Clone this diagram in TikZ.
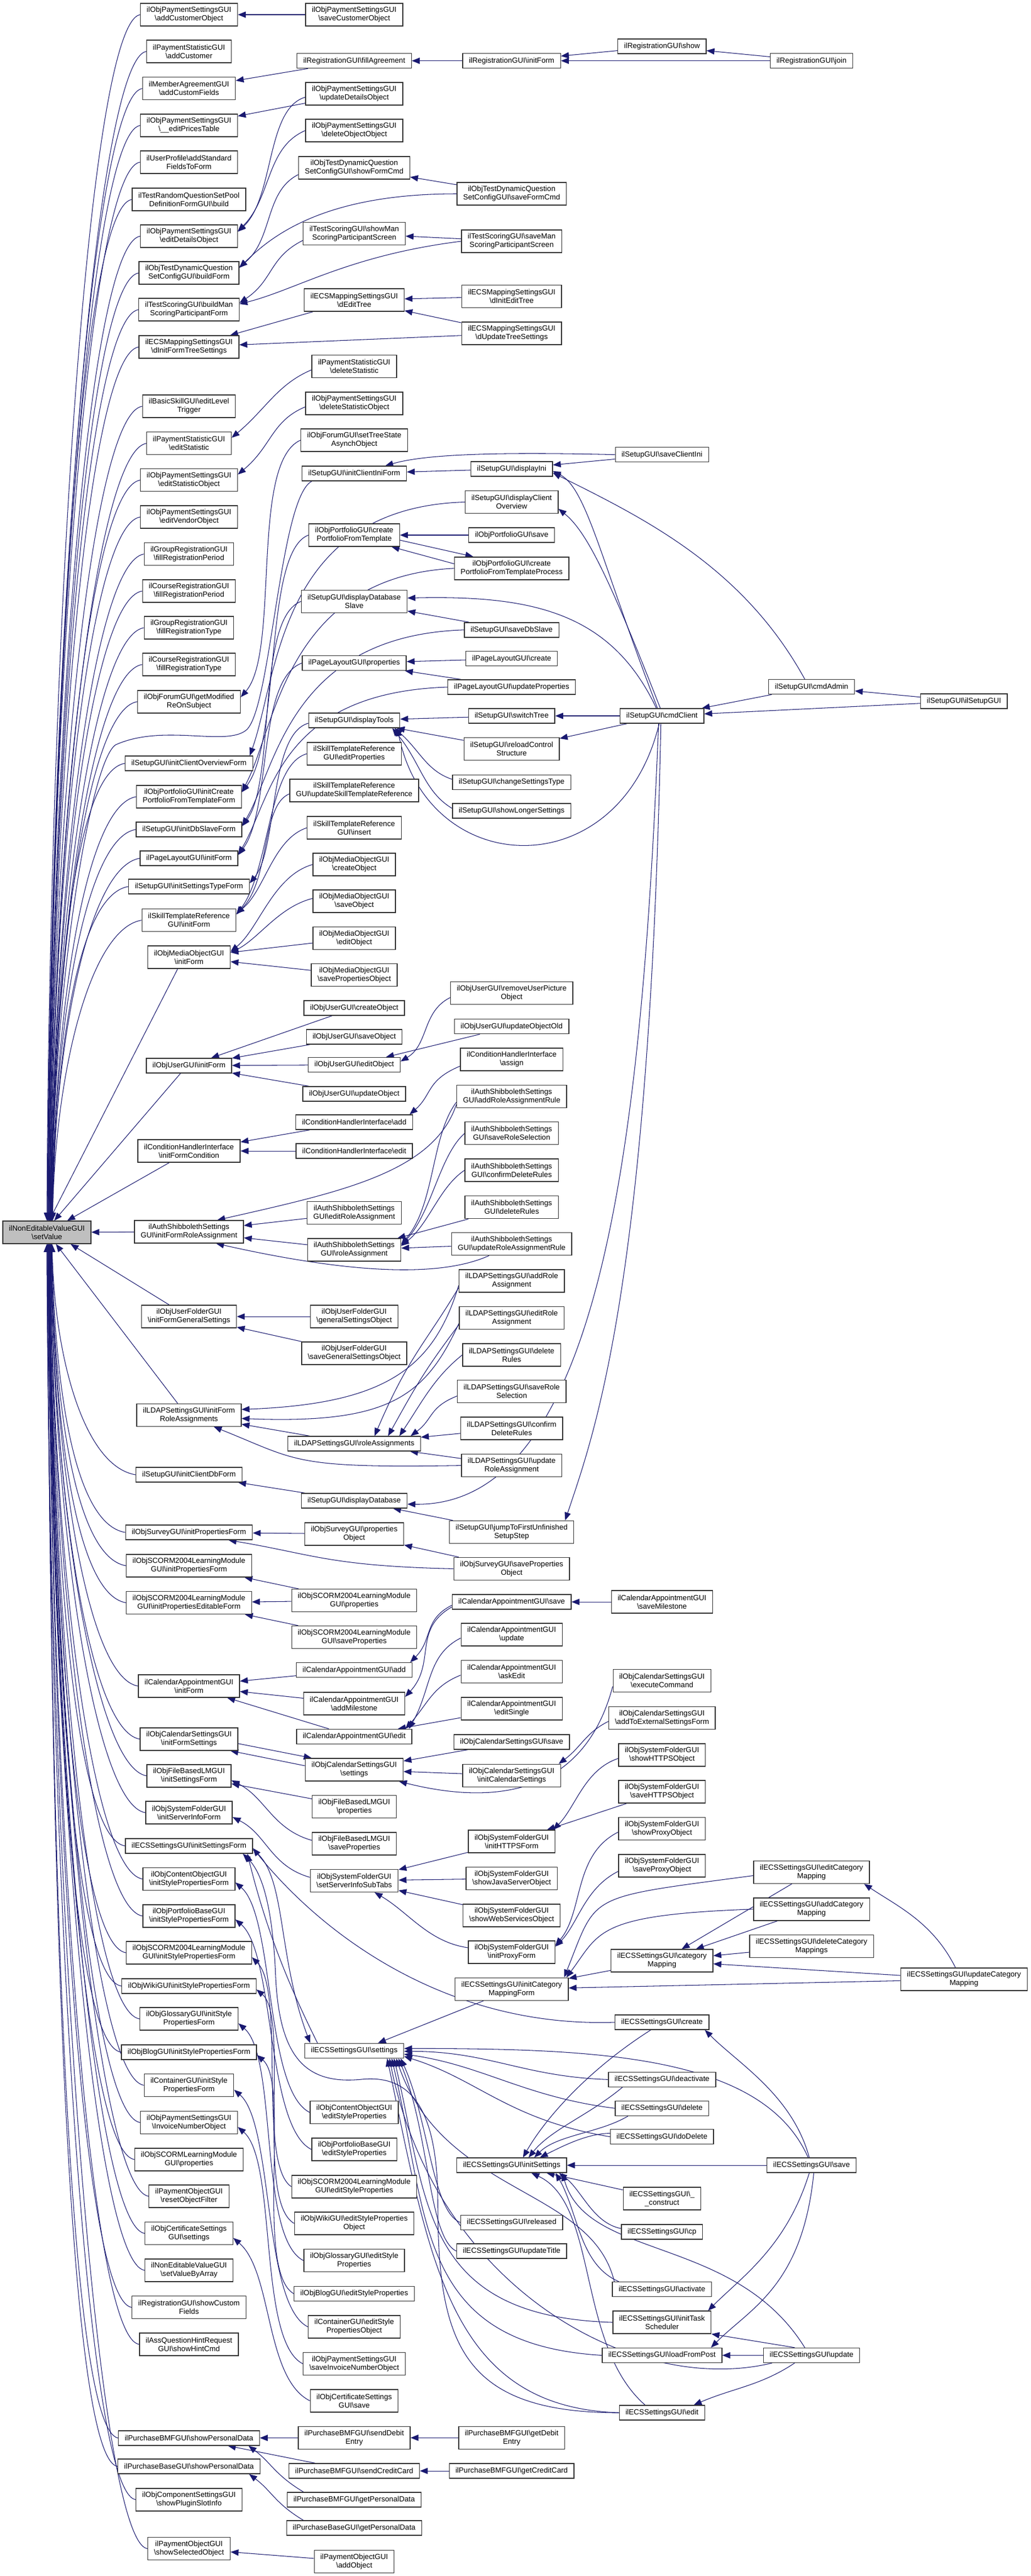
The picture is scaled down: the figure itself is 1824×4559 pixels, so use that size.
\documentclass[tikz,border=0pt]{standalone}
\usepackage{fontspec}
\setmainfont{Liberation Sans}
\usetikzlibrary{arrows.meta,backgrounds}
\definecolor{mb}{HTML}{191970}
\newcommand\BS{\textbackslash}
\newcommand\nf{\fontsize{13.2pt}{15pt}\selectfont}
\newcommand\topedge[3]{\draw[ed] (#1.west) .. controls +(-90,15) and +(5,{-0.5*(2161-#2)}) .. ([xshift=#3pt]root.north);}
\newcommand\botedge[3]{\draw[ed] (#1.west) .. controls +(-90,-15) and +(5,{0.5*(#2-2201)}) .. ([xshift=#3pt]root.south);}
\tikzset{
 nd/.style={draw=black!80, line width=1.4pt, fill=white, font=\nf, align=center, inner xsep=11pt, inner ysep=1pt, minimum height=26pt},
 nd2/.style={nd, minimum height=40pt},
 rt/.style={nd2, fill=black!25},
 ed/.style={draw=mb, line width=1.05pt, -{Triangle[length=14pt,width=11pt]}}
}
\begin{document}
\begin{tikzpicture}[x=1pt,y=-1pt]
\useasboundingbox (0,0) rectangle (1824,4559);
% root
\node[rt] (root) at (83,2181) {ilNonEditableValueGUI\\\BS setValue};
% column 1
\node[nd2] (a1) at (334.5,26) {ilObjPaymentSettingsGUI\\\BS addCustomerObject};
\node[nd2] (a2) at (334.5,91) {ilPaymentStatisticGUI\\\BS addCustomer};
\node[nd2] (a3) at (334.5,156.6) {ilMemberAgreementGUI\\\BS addCustomFields};
\node[nd2] (a4) at (334.5,222) {ilObjPaymentSettingsGUI\\\BS\_\_editPricesTable};
\node[nd2] (a5) at (334.5,287) {ilUserProfile\BS addStandard\\FieldsToForm};
\node[nd2] (a6) at (334.5,353) {ilTestRandomQuestionSetPool\\DefinitionFormGUI\BS build};
\node[nd2] (a7) at (334.5,418) {ilObjPaymentSettingsGUI\\\BS editDetailsObject};
\node[nd2] (a8) at (334.5,483) {ilObjTestDynamicQuestion\\SetConfigGUI\BS buildForm};
\node[nd2] (a9) at (334.5,548) {ilTestScoringGUI\BS buildMan\\ScoringParticipantForm};
\node[nd2] (a10) at (334.5,614) {ilECSMappingSettingsGUI\\\BS dInitFormTreeSettings};
\node[nd2] (a11) at (334.5,719) {ilBasicSkillGUI\BS editLevel\\Trigger};
\node[nd2] (a12) at (334.5,784.7) {ilPaymentStatisticGUI\\\BS editStatistic};
\node[nd2] (a13) at (334.5,849.7) {ilObjPaymentSettingsGUI\\\BS editStatisticObject};
\node[nd2] (a14) at (334.5,915) {ilObjPaymentSettingsGUI\\\BS editVendorObject};
\node[nd2] (a15) at (334.5,980.6) {ilGroupRegistrationGUI\\\BS fillRegistrationPeriod};
\node[nd2] (a16) at (334.5,1046) {ilCourseRegistrationGUI\\\BS fillRegistrationPeriod};
\node[nd2] (a17) at (334.5,1111) {ilGroupRegistrationGUI\\\BS fillRegistrationType};
\node[nd2] (a18) at (334.5,1176) {ilCourseRegistrationGUI\\\BS fillRegistrationType};
\node[nd2] (a19) at (334.5,1241.8) {ilObjForumGUI\BS getModified\\ReOnSubject};
\node[nd] (a20) at (334.5,1351) {ilSetupGUI\BS initClientOverviewForm};
\node[nd2] (a21) at (334.5,1410) {ilObjPortfolioGUI\BS initCreate\\PortfolioFromTemplateForm};
\node[nd] (a22) at (334.5,1468) {ilSetupGUI\BS initDbSlaveForm};
\node[nd] (a23) at (334.5,1519) {ilPageLayoutGUI\BS initForm};
\node[nd] (a24) at (334.5,1569) {ilSetupGUI\BS initSettingsTypeForm};
\node[nd2] (a25) at (334.5,1628.6) {ilSkillTemplateReference\\GUI\BS initForm};
\node[nd2] (a26) at (334.5,1694) {ilObjMediaObjectGUI\\\BS initForm};
\node[nd] (a27) at (334.5,1886) {ilObjUserGUI\BS initForm};
\node[nd2] (a28) at (334.5,2037) {ilConditionHandlerInterface\\\BS initFormCondition};
\node[nd2] (a29) at (334.5,2180) {ilAuthShibbolethSettings\\GUI\BS initFormRoleAssignment};
\node[nd2] (a30) at (334.5,2330) {ilObjUserFolderGUI\\\BS initFormGeneralSettings};
\node[nd2] (a31) at (334.5,2504.4) {ilLDAPSettingsGUI\BS initForm\\RoleAssignments};
\node[nd] (a32) at (334.5,2610) {ilSetupGUI\BS initClientDbForm};
\node[nd] (a33) at (334.5,2712) {ilObjSurveyGUI\BS initPropertiesForm};
\node[nd2] (a34) at (334.5,2771) {ilObjSCORM2004LearningModule\\GUI\BS initPropertiesForm};
\node[nd2] (a35) at (334.5,2836.5) {ilObjSCORM2004LearningModule\\GUI\BS initPropertiesEditableForm};
\node[nd2] (a36) at (334.5,2984) {ilCalendarAppointmentGUI\\\BS initForm};
\node[nd2] (a37) at (334.5,3077.8) {ilObjCalendarSettingsGUI\\\BS initFormSettings};
\node[nd2] (a38) at (334.5,3142.8) {ilObjFileBasedLMGUI\\\BS initSettingsForm};
\node[nd2] (a39) at (334.5,3208) {ilObjSystemFolderGUI\\\BS initServerInfoForm};
\node[nd] (a40) at (334.5,3266.9) {ilECSSettingsGUI\BS initSettingsForm};
\node[nd2] (a41) at (334.5,3325.5) {ilObjContentObjectGUI\\\BS initStylePropertiesForm};
\node[nd2] (a42) at (334.5,3391) {ilObjPortfolioBaseGUI\\\BS initStylePropertiesForm};
\node[nd2] (a43) at (334.5,3456) {ilObjSCORM2004LearningModule\\GUI\BS initStylePropertiesForm};
\node[nd] (a44) at (334.5,3515) {ilObjWikiGUI\BS initStylePropertiesForm};
\node[nd2] (a45) at (334.5,3573) {ilObjGlossaryGUI\BS initStyle\\PropertiesForm};
\node[nd] (a46) at (334.5,3632) {ilObjBlogGUI\BS initStylePropertiesForm};
\node[nd2] (a47) at (334.5,3690.5) {ilContainerGUI\BS initStyle\\PropertiesForm};
\node[nd2] (a48) at (334.5,3756.4) {ilObjPaymentSettingsGUI\\\BS InvoiceNumberObject};
\node[nd2] (a49) at (334.5,3821.8) {ilObjSCORMLearningModule\\GUI\BS properties};
\node[nd2] (a50) at (334.5,3887) {ilPaymentObjectGUI\\\BS resetObjectFilter};
\node[nd2] (a51) at (334.5,3952.7) {ilObjCertificateSettings\\GUI\BS settings};
\node[nd2] (a52) at (334.5,4018) {ilNonEditableValueGUI\\\BS setValueByArray};
\node[nd2] (a53) at (334.5,4083.6) {ilRegistrationGUI\BS showCustom\\Fields};
\node[nd2] (a54) at (334.5,4149) {ilAssQuestionHintRequest\\GUI\BS showHintCmd};
\node[nd] (a55) at (334.5,4314.8) {ilPurchaseBMFGUI\BS showPersonalData};
\node[nd] (a56) at (334.5,4365) {ilPurchaseBaseGUI\BS showPersonalData};
\node[nd2] (a57) at (334.5,4423.8) {ilObjComponentSettingsGUI\\\BS showPluginSlotInfo};
\node[nd2] (a58) at (334.5,4510.6) {ilPaymentObjectGUI\\\BS showSelectedObject};
% column 2
\node[nd2] (b1) at (627,26) {ilObjPaymentSettingsGUI\\\BS saveCustomerObject};
\node[nd] (b2) at (627,107.6) {ilRegistrationGUI\BS fillAgreement};
\node[nd2] (b3) at (627,166) {ilObjPaymentSettingsGUI\\\BS updateDetailsObject};
\node[nd2] (b4) at (627,231) {ilObjPaymentSettingsGUI\\\BS deleteObjectObject};
\node[nd2] (b5) at (627,297) {ilObjTestDynamicQuestion\\SetConfigGUI\BS showFormCmd};
\node[nd2] (b6) at (627,413.5) {ilTestScoringGUI\BS showMan\\ScoringParticipantScreen};
\node[nd2] (b7) at (627,531) {ilECSMappingSettingsGUI\\\BS dEditTree};
\node[nd2] (b8) at (627,648.6) {ilPaymentStatisticGUI\\\BS deleteStatistic};
\node[nd2] (b9) at (627,714) {ilObjPaymentSettingsGUI\\\BS deleteStatisticObject};
\node[nd2] (b10) at (627,779) {ilObjForumGUI\BS setTreeState\\AsynchObject};
\node[nd] (b11) at (627,838) {ilSetupGUI\BS initClientIniForm};
\node[nd2] (b12) at (627,947) {ilObjPortfolioGUI\BS create\\PortfolioFromTemplate};
\node[nd2] (b13) at (627,1064.4) {ilSetupGUI\BS displayDatabase\\Slave};
\node[nd] (b14) at (627,1173.5) {ilPageLayoutGUI\BS properties};
\node[nd] (b15) at (627,1275) {ilSetupGUI\BS displayTools};
\node[nd2] (b16) at (627,1334) {ilSkillTemplateReference\\GUI\BS editProperties};
\node[nd2] (b17) at (627,1399) {ilSkillTemplateReference\\GUI\BS updateSkillTemplateReference};
\node[nd2] (b18) at (627,1465) {ilSkillTemplateReference\\GUI\BS insert};
\node[nd2] (b19) at (627,1530) {ilObjMediaObjectGUI\\\BS createObject};
\node[nd2] (b20) at (627,1595) {ilObjMediaObjectGUI\\\BS saveObject};
\node[nd2] (b21) at (627,1660.6) {ilObjMediaObjectGUI\\\BS editObject};
\node[nd2] (b22) at (627,1725.5) {ilObjMediaObjectGUI\\\BS savePropertiesObject};
\node[nd] (b23) at (627,1784) {ilObjUserGUI\BS createObject};
\node[nd] (b24) at (627,1835) {ilObjUserGUI\BS saveObject};
\node[nd] (b25) at (627,1884.5) {ilObjUserGUI\BS editObject};
\node[nd] (b26) at (627,1936) {ilObjUserGUI\BS updateObject};
\node[nd] (b27) at (627,1986) {ilConditionHandlerInterface\BS add};
\node[nd] (b28) at (627,2037) {ilConditionHandlerInterface\BS edit};
\node[nd2] (b29) at (627,2146.7) {ilAuthShibbolethSettings\\GUI\BS editRoleAssignment};
\node[nd2] (b30) at (627,2212) {ilAuthShibbolethSettings\\GUI\BS roleAssignment};
\node[nd2] (b31) at (627,2330) {ilObjUserFolderGUI\\\BS generalSettingsObject};
\node[nd2] (b32) at (627,2395) {ilObjUserFolderGUI\\\BS saveGeneralSettingsObject};
\node[nd] (b33) at (627,2555) {ilLDAPSettingsGUI\BS roleAssignments};
\node[nd] (b34) at (627,2656) {ilSetupGUI\BS displayDatabase};
\node[nd2] (b35) at (627,2714.8) {ilObjSurveyGUI\BS properties\\Object};
\node[nd2] (b36) at (627,2832.6) {ilObjSCORM2004LearningModule\\GUI\BS properties};
\node[nd2] (b37) at (627,2897.6) {ilObjSCORM2004LearningModule\\GUI\BS saveProperties};
\node[nd] (b38) at (627,2955.7) {ilCalendarAppointmentGUI\BS add};
\node[nd2] (b39) at (627,3015) {ilCalendarAppointmentGUI\\\BS addMilestone};
\node[nd] (b40) at (627,3073.4) {ilCalendarAppointmentGUI\BS edit};
\node[nd2] (b41) at (627,3132) {ilObjCalendarSettingsGUI\\\BS settings};
\node[nd2] (b42) at (627,3197.5) {ilObjFileBasedLMGUI\\\BS properties};
\node[nd2] (b43) at (627,3263) {ilObjFileBasedLMGUI\\\BS saveProperties};
\node[nd2] (b44) at (627,3328.4) {ilObjSystemFolderGUI\\\BS setServerInfoSubTabs};
\node[nd] (b45) at (627,3629.4) {ilECSSettingsGUI\BS settings};
\node[nd2] (b46) at (627,3738.5) {ilObjContentObjectGUI\\\BS editStyleProperties};
\node[nd2] (b47) at (627,3804) {ilObjPortfolioBaseGUI\\\BS editStyleProperties};
\node[nd2] (b48) at (627,3869.8) {ilObjSCORM2004LearningModule\\GUI\BS editStyleProperties};
\node[nd2] (b49) at (627,3935) {ilObjWikiGUI\BS editStyleProperties\\Object};
\node[nd2] (b50) at (627,4000.7) {ilObjGlossaryGUI\BS editStyle\\Properties};
\node[nd] (b51) at (627,4059.3) {ilObjBlogGUI\BS editStyleProperties};
\node[nd2] (b52) at (627,4118) {ilContainerGUI\BS editStyle\\PropertiesObject};
\node[nd2] (b53) at (627,4183.4) {ilObjPaymentSettingsGUI\\\BS saveInvoiceNumberObject};
\node[nd2] (b54) at (627,4248.9) {ilObjCertificateSettings\\GUI\BS save};
\node[nd2] (b55) at (627,4314.3) {ilPurchaseBMFGUI\BS sendDebit\\Entry};
\node[nd] (b56) at (627,4373) {ilPurchaseBMFGUI\BS sendCreditCard};
\node[nd] (b57) at (627,4423.8) {ilPurchaseBMFGUI\BS getPersonalData};
\node[nd] (b58) at (627,4474) {ilPurchaseBaseGUI\BS getPersonalData};
\node[nd2] (b59) at (627,4533.4) {ilPaymentObjectGUI\\\BS addObject};
% column 3
\node[nd] (c1) at (905.7,107.6) {ilRegistrationGUI\BS initForm};
\node[nd2] (c2) at (905.7,343) {ilObjTestDynamicQuestion\\SetConfigGUI\BS saveFormCmd};
\node[nd2] (c3) at (905.7,427) {ilTestScoringGUI\BS saveMan\\ScoringParticipantScreen};
\node[nd2] (c4) at (905.7,524.5) {ilECSMappingSettingsGUI\\\BS dInitEditTree};
\node[nd2] (c5) at (905.7,590) {ilECSMappingSettingsGUI\\\BS dUpdateTreeSettings};
\node[nd] (c7) at (905.7,829.8) {ilSetupGUI\BS displayIni};
\node[nd2] (c8) at (905.7,888.5) {ilSetupGUI\BS displayClient\\Overview};
\node[nd] (c9) at (905.7,947) {ilObjPortfolioGUI\BS save};
\node[nd2] (c10) at (905.7,1005.8) {ilObjPortfolioGUI\BS create\\PortfolioFromTemplateProcess};
\node[nd] (c11) at (905.7,1114.8) {ilSetupGUI\BS saveDbSlave};
\node[nd] (c12) at (905.7,1165.7) {ilPageLayoutGUI\BS create};
\node[nd] (c13) at (905.7,1216) {ilPageLayoutGUI\BS updateProperties};
\node[nd] (c14) at (905.7,1267) {ilSetupGUI\BS switchTree};
\node[nd2] (c15) at (905.7,1325.7) {ilSetupGUI\BS reloadControl\\Structure};
\node[nd] (c16) at (905.7,1384.3) {ilSetupGUI\BS changeSettingsType};
\node[nd] (c17) at (905.7,1434.8) {ilSetupGUI\BS showLongerSettings};
\node[nd2] (c18) at (905.7,1757.5) {ilObjUserGUI\BS removeUserPicture\\Object};
\node[nd] (c19) at (905.7,1816.7) {ilObjUserGUI\BS updateObjectOld};
\node[nd2] (c20) at (905.7,1874.8) {ilConditionHandlerInterface\\\BS assign};
\node[nd2] (c21) at (905.7,1940.7) {ilAuthShibbolethSettings\\GUI\BS addRoleAssignmentRule};
\node[nd2] (c22) at (905.7,2005.7) {ilAuthShibbolethSettings\\GUI\BS saveRoleSelection};
\node[nd2] (c23) at (905.7,2071) {ilAuthShibbolethSettings\\GUI\BS confirmDeleteRules};
\node[nd2] (c24) at (905.7,2136.6) {ilAuthShibbolethSettings\\GUI\BS deleteRules};
\node[nd2] (c25) at (905.7,2201.5) {ilAuthShibbolethSettings\\GUI\BS updateRoleAssignmentRule};
\node[nd2] (c26) at (905.7,2267) {ilLDAPSettingsGUI\BS addRole\\Assignment};
\node[nd2] (c27) at (905.7,2332.4) {ilLDAPSettingsGUI\BS editRole\\Assignment};
\node[nd2] (c28) at (905.7,2397.8) {ilLDAPSettingsGUI\BS delete\\Rules};
\node[nd2] (c29) at (905.7,2462.7) {ilLDAPSettingsGUI\BS saveRole\\Selection};
\node[nd2] (c30) at (905.7,2528) {ilLDAPSettingsGUI\BS confirm\\DeleteRules};
\node[nd2] (c31) at (905.7,2593.6) {ilLDAPSettingsGUI\BS update\\RoleAssignment};
\node[nd2] (c32) at (905.7,2711.4) {ilSetupGUI\BS jumpToFirstUnfinished\\SetupStep};
\node[nd2] (c33) at (905.7,2776.4) {ilObjSurveyGUI\BS saveProperties\\Object};
\node[nd] (c34) at (905.7,2835) {ilCalendarAppointmentGUI\BS save};
\node[nd2] (c35) at (905.7,2893) {ilCalendarAppointmentGUI\\\BS update};
\node[nd2] (c36) at (905.7,2958.6) {ilCalendarAppointmentGUI\\\BS askEdit};
\node[nd2] (c37) at (905.7,3024) {ilCalendarAppointmentGUI\\\BS editSingle};
\node[nd] (c38) at (905.7,3083) {ilObjCalendarSettingsGUI\BS save};
\node[nd2] (c39) at (905.7,3142.3) {ilObjCalendarSettingsGUI\\\BS initCalendarSettings};
\node[nd2] (c40) at (905.7,3259) {ilObjSystemFolderGUI\\\BS initHTTPSForm};
\node[nd2] (c41) at (905.7,3324.5) {ilObjSystemFolderGUI\\\BS showJavaServerObject};
\node[nd2] (c42) at (905.7,3390) {ilObjSystemFolderGUI\\\BS showWebServicesObject};
\node[nd2] (c43) at (905.7,3455) {ilObjSystemFolderGUI\\\BS initProxyForm};
\node[nd2] (c44) at (905.7,3520.4) {ilECSSettingsGUI\BS initCategory\\MappingForm};
\node[nd] (c45) at (905.7,3832) {ilECSSettingsGUI\BS initSettings};
\node[nd] (c46) at (905.7,3933.3) {ilECSSettingsGUI\BS released};
\node[nd] (c47) at (905.7,3984) {ilECSSettingsGUI\BS updateTitle};
\node[nd2] (c48) at (905.7,4314.3) {ilPurchaseBMFGUI\BS getDebit\\Entry};
\node[nd] (c49) at (905.7,4373) {ilPurchaseBMFGUI\BS getCreditCard};
% column 4
\node[nd] (d1) at (1171.8,82) {ilRegistrationGUI\BS show};
\node[nd] (d0) at (1171.8,804.6) {ilSetupGUI\BS saveClientIni};
\node[nd] (d3) at (1171.8,1267) {ilSetupGUI\BS cmdClient};
\node[nd2] (d6) at (1171.8,2835) {ilCalendarAppointmentGUI\\\BS saveMilestone};
\node[nd2] (d7) at (1171.8,2974.6) {ilObjCalendarSettingsGUI\\\BS executeCommand};
\node[nd2] (d8) at (1171.8,3040.5) {ilObjCalendarSettingsGUI\\\BS addToExternalSettingsForm};
\node[nd2] (d9) at (1171.8,3106) {ilObjSystemFolderGUI\\\BS showHTTPSObject};
\node[nd2] (d10) at (1171.8,3171) {ilObjSystemFolderGUI\\\BS saveHTTPSObject};
\node[nd2] (d11) at (1171.8,3236.3) {ilObjSystemFolderGUI\\\BS showProxyObject};
\node[nd2] (d12) at (1171.8,3301.8) {ilObjSystemFolderGUI\\\BS saveProxyObject};
\node[nd2] (d13) at (1171.8,3470) {ilECSSettingsGUI\BS category\\Mapping};
\node[nd] (d14) at (1171.8,3579) {ilECSSettingsGUI\BS create};
\node[nd] (d15) at (1171.8,3680.3) {ilECSSettingsGUI\BS deactivate};
\node[nd] (d16) at (1171.8,3731.2) {ilECSSettingsGUI\BS delete};
\node[nd] (d17) at (1171.8,3781.6) {ilECSSettingsGUI\BS doDelete};
\node[nd2] (d19) at (1171.8,3891) {ilECSSettingsGUI\BS\_\\\_construct};
\node[nd] (d20) at (1171.8,3950) {ilECSSettingsGUI\BS cp};
\node[nd] (d21) at (1171.8,4051.6) {ilECSSettingsGUI\BS activate};
\node[nd2] (d22) at (1171.8,4110) {ilECSSettingsGUI\BS initTask\\Scheduler};
\node[nd] (d23) at (1171.8,4168.4) {ilECSSettingsGUI\BS loadFromPost};
\node[nd] (d24) at (1171.8,4270) {ilECSSettingsGUI\BS edit};
% column 5
\node[nd] (d2) at (1436.5,107.6) {ilRegistrationGUI\BS join};
\node[nd] (d4) at (1436.5,1215.6) {ilSetupGUI\BS cmdAdmin};
\node[nd2] (e1) at (1436.5,3313.4) {ilECSSettingsGUI\BS editCategory\\Mapping};
\node[nd2] (e2) at (1436.5,3378.8) {ilECSSettingsGUI\BS addCategory\\Mapping};
\node[nd2] (e3) at (1436.5,3444.3) {ilECSSettingsGUI\BS deleteCategory\\Mappings};
\node[nd] (d18) at (1436.5,3832) {ilECSSettingsGUI\BS save};
\node[nd] (e4) at (1436.5,4168.4) {ilECSSettingsGUI\BS update};
% column 6
\node[nd] (d5) at (1706.3,1241) {ilSetupGUI\BS ilSetupGUI};
\node[nd2] (f1) at (1706.3,3503) {ilECSSettingsGUI\BS updateCategory\\Mapping};

\begin{pgfonlayer}{background}
\fill[white] (0,0) rectangle (1824,4559);
% ---- edges into root
\topedge{a1}{26}{0} \topedge{a2}{91}{1} \topedge{a3}{156.6}{1} \topedge{a4}{222}{2}
\topedge{a5}{287}{2} \topedge{a6}{353}{3} \topedge{a7}{418}{3} \topedge{a8}{483}{4}
\topedge{a9}{548}{4} \topedge{a10}{614}{5} \topedge{a11}{719}{5} \topedge{a12}{784.7}{6}
\topedge{a13}{849.7}{6} \topedge{a14}{915}{6} \topedge{a15}{980.6}{7} \topedge{a16}{1046}{7}
\topedge{a17}{1111}{7} \topedge{a18}{1176}{8} \topedge{a19}{1241.8}{8} \topedge{a20}{1351}{8}
\topedge{a21}{1410}{9} \topedge{a22}{1468}{9} \topedge{a23}{1519}{9} \topedge{a24}{1569}{10}
\topedge{a25}{1628.6}{10}
\draw[ed] ([xshift=-75pt]b11.south) .. controls (495,880) and (480,1255) .. (436,1292) .. controls (400,1322) and (290,1280) .. (205,1318) .. controls (160,1345) and (93,1750) .. ([xshift=9pt]root.north);
\draw[ed] ([xshift=-20pt]a26.south) -- ([xshift=4pt]root.north);
\draw[ed] ([xshift=-15pt]a27.south) -- ([xshift=13pt]root.north);
\draw[ed] ([xshift=-35pt]a28.south) -- ([xshift=36pt]root.north);
\draw[ed] (a29) -- (root);
\draw[ed] ([xshift=-35pt]a30.north) -- ([xshift=42pt]root.south);
\draw[ed] ([xshift=-20pt]a31.north) -- ([xshift=16pt]root.south);
\botedge{a32}{2610}{9} \botedge{a33}{2712}{9} \botedge{a34}{2771}{8} \botedge{a35}{2836.5}{8}
\botedge{a36}{2984}{8} \botedge{a37}{3077.8}{7} \botedge{a38}{3142.8}{7} \botedge{a39}{3208}{7}
\botedge{a40}{3266.9}{6} \botedge{a41}{3325.5}{6} \botedge{a42}{3391}{6} \botedge{a43}{3456}{5}
\botedge{a44}{3515}{5} \botedge{a45}{3573}{5} \botedge{a46}{3632}{4} \botedge{a47}{3690.5}{4}
\botedge{a48}{3756.4}{4} \botedge{a49}{3821.8}{3} \botedge{a50}{3887}{3} \botedge{a51}{3952.7}{3}
\botedge{a52}{4018}{2} \botedge{a53}{4083.6}{2} \botedge{a54}{4149}{2} \botedge{a55}{4314.8}{1}
\botedge{a56}{4365}{1} \botedge{a57}{4423.8}{0} \botedge{a58}{4510.6}{0}
% ---- top cluster
\draw[ed] (b1) -- (a1);
\draw[ed] (b2) -- (a3);
\draw[ed] (b3) -- (a4);
\draw[ed] ([yshift=-6pt]b3.west) .. controls +(-70,20) and +(65,-60) .. ([yshift=8pt]a7.east);
\draw[ed] (b4.west) .. controls +(-70,30) and +(60,-60) .. ([yshift=9pt]a7.east);
\draw[ed] ([yshift=-12pt]b5.west) .. controls +(-60,30) and +(60,-50) .. ([yshift=10pt]a8.east);
\draw[ed] (c2) -- (b5);
\draw[ed] (c2.west) .. controls +(-230,0) and +(60,-60) .. ([yshift=9pt]a8.east);
\draw[ed] ([yshift=-12pt]b6.west) .. controls +(-60,30) and +(60,-40) .. ([yshift=12pt]a9.east);
\draw[ed] (c3) -- (b6);
\draw[ed] (c3.west) .. controls +(-200,25) and +(100,-25) .. ([yshift=10pt]a9.east);
\draw[ed] (b7) -- (a10);
\draw[ed] (c4) -- (b7);
\draw[ed] (c5) -- (b7);
\draw[ed] (c5) -- (a10);
\draw[ed] (c1) -- (b2);
\draw[ed] (d1) -- (c1);
\draw[ed] (d2) -- (c1);
\draw[ed] (d2) -- (d1);
\draw[ed] ([yshift=-6pt]b8.west) .. controls +(-60,25) and +(60,-50) .. ([yshift=10pt]a12.east);
\draw[ed] ([yshift=-6pt]b9.west) .. controls +(-60,25) and +(60,-50) .. ([yshift=10pt]a13.east);
\draw[ed] (b10.west) .. controls +(-90,40) and +(70,-80) .. ([yshift=8pt]a19.east);
\draw[ed] (c8.west) .. controls +(-330,10) and +(50,-140) .. ([xshift=-6pt]a20.north east);
\draw[ed] (b12.west) .. controls +(-80,30) and +(70,-90) .. ([yshift=8pt]a21.east);
\draw[ed] (c10.west) .. controls +(-300,15) and +(60,-110) .. ([yshift=9pt]a21.east);
\draw[ed] (b13.west) .. controls +(-80,30) and +(60,-80) .. ([yshift=6pt]a22.east);
\draw[ed] (c11.west) .. controls +(-310,10) and +(60,-100) .. ([yshift=7pt]a22.east);
\draw[ed] (b14.west) .. controls +(-80,30) and +(60,-80) .. ([yshift=6pt]a23.east);
\draw[ed] (c13.west) .. controls +(-300,10) and +(60,-100) .. ([yshift=7pt]a23.east);
\draw[ed] (c12) -- (b14);
\draw[ed] (c13) -- (b14);
\draw[ed] (c11) -- (b13);
\draw[ed] ([xshift=-10pt]d3.north) .. controls +(-80,-170) and +(220,-5) .. ([yshift=6pt]b13.east);
\draw[ed] (c7) -- (b11);
\draw[ed] (d0.west) .. controls +(-220,-5) and +(70,-20) .. ([xshift=55pt]b11.north);
\draw[ed] (d0) -- (c7);
\draw[ed] (c9) -- (b12);
\draw[ed] ([yshift=8pt]c10.west) -- ([xshift=-15pt]b12.south east);
\draw[ed] ([yshift=-9pt]b12.east) -- ([xshift=-68pt]c10.north);
\draw[ed] ([xshift=-8pt]d3.north) .. controls +(-100,-260) and +(60,30) .. ([yshift=-4pt]c7.east);
\draw[ed] ([xshift=-3pt]d3.north) .. controls +(-90,-230) and +(50,40) .. ([yshift=-12pt]c8.east);
\draw[ed] ([xshift=-12pt]d4.north) .. controls +(-110,-200) and +(160,80) .. ([yshift=-7pt]c7.east);
\draw[ed] (d3) -- (c14);
\draw[ed] (d3) -- (c15);
\draw[ed] (d4) -- (d3);
\draw[ed] (d5) -- (d4);
\draw[ed] (d5) -- (d3);
\draw[ed] ([xshift=-5pt]d3.south) .. controls +(-70,290) and +(55,270) .. ([xshift=-5pt]b15.south east);
\draw[ed] (c14) -- (b15);
\draw[ed] (c15) -- (b15);
\draw[ed] ([yshift=5pt]c16.west) .. controls +(-45,-15) and +(45,40) .. ([xshift=-10pt]b15.south east);
\draw[ed] ([yshift=4pt]c17.west) .. controls +(-50,-30) and +(50,60) .. ([xshift=-14pt]b15.south east);
\draw[ed] ([yshift=-5pt]b15.west) .. controls +(-70,20) and +(50,-60) .. ([yshift=6pt]a24.east);
% ---- middle cluster
\draw[ed] (b16.west) .. controls +(-70,20) and +(60,-80) .. ([yshift=10pt]a25.east);
\draw[ed] ([yshift=-6pt]b17.west) .. controls +(-50,20) and +(60,-60) .. ([yshift=11pt]a25.east);
\draw[ed] (b18.west) .. controls +(-60,20) and +(50,-40) .. ([yshift=12pt]a25.east);
\draw[ed] (b19.west) .. controls +(-70,20) and +(50,-40) .. ([yshift=10pt]a26.east);
\draw[ed] ([yshift=5pt]b20.west) .. controls +(-60,15) and +(50,-25) .. ([yshift=8pt]a26.east);
\draw[ed] (b21) -- (a26);
\draw[ed] (b22) -- (a26);
\draw[ed] (b23) -- (a27);
\draw[ed] (b24) -- (a27);
\draw[ed] (b25) -- (a27);
\draw[ed] (b26) -- (a27);
\draw[ed] ([yshift=-8pt]c18.west) .. controls +(-50,25) and +(50,-30) .. ([yshift=6pt]b25.east);
\draw[ed] (c19) -- (b25);
\draw[ed] (b27) -- (a28);
\draw[ed] (b28) -- (a28);
\draw[ed] ([yshift=-12pt]c20.west) .. controls +(-60,25) and +(40,-35) .. ([xshift=-6pt]b27.north east);
\draw[ed] (b29) -- (a29);
\draw[ed] (b30) -- (a29);
\draw[ed] ([yshift=-14pt]c21.west) .. controls +(-40,120) and +(220,-50) .. ([xshift=50pt]a29.north);
\draw[ed] ([xshift=-40pt]c25.south) .. controls +(-100,45) and +(200,45) .. ([xshift=48pt]a29.south);
\draw[ed] ([yshift=-10pt]c21.west) .. controls +(-45,60) and +(60,-70) .. ([yshift=10pt]b30.east);
\draw[ed] (c22.west) .. controls +(-45,40) and +(55,-60) .. ([yshift=8pt]b30.east);
\draw[ed] (c23.west) .. controls +(-45,30) and +(50,-40) .. ([yshift=7pt]b30.east);
\draw[ed] (c24) -- (b30);
\draw[ed] (c25) -- (b30);
% ---- LDAP etc
\draw[ed] (b31) -- (a30);
\draw[ed] (b32) -- (a30);
\draw[ed] ([yshift=-8pt]c26.west) .. controls +(-45,150) and +(250,-10) .. ([yshift=10pt]a31.east);
\draw[ed] ([yshift=-10pt]c27.west) .. controls +(-60,130) and +(260,10) .. ([yshift=-6pt]a31.east);
\draw[ed] (b33) -- (a31);
\draw[ed] (c31.west) .. controls +(-300,5) and +(150,60) .. ([xshift=44pt]a31.south);
\draw[ed] ([yshift=-12pt]c26.west) .. controls +(-60,100) and +(60,-140) .. ([xshift=36pt]b33.north);
\draw[ed] ([yshift=-12pt]c27.west) .. controls +(-60,80) and +(50,-90) .. ([xshift=60pt]b33.north);
\draw[ed] (c28.west) .. controls +(-50,40) and +(40,-60) .. ([xshift=80pt]b33.north);
\draw[ed] ([yshift=-8pt]c29.west) .. controls +(-50,20) and +(40,-30) .. ([xshift=100pt]b33.north);
\draw[ed] (c30) -- (b33);
\draw[ed] (c31) -- (b33);
\draw[ed] (b34) -- (a32);
\draw[ed] (c32) -- (b34);
\draw[ed] ([xshift=-6pt]d3.south) .. controls +(-30,750) and +(340,5) .. ([yshift=-6pt]b34.east);
\draw[ed] ([xshift=-2pt]d3.south) .. controls +(-20,1000) and +(50,-150) .. ([xshift=-16pt]c32.north east);
\draw[ed] (b35) -- (a33);
\draw[ed] (c33.west) .. controls +(-220,-5) and +(150,25) .. ([xshift=70pt]a33.south);
\draw[ed] (c33) -- (b35);
\draw[ed] (b36) -- (a34);
\draw[ed] (b36) -- (a35);
\draw[ed] (b37) -- (a35);
\draw[ed] (b38) -- (a36);
\draw[ed] (b39) -- (a36);
\draw[ed] (b40) -- (a36);
\draw[ed] ([yshift=-6pt]c34.west) .. controls +(-50,25) and +(40,-40) .. ([xshift=-4pt]b38.north east);
\draw[ed] ([yshift=-9pt]c34.west) .. controls +(-70,40) and +(55,-60) .. ([yshift=12pt]b39.east);
\draw[ed] (d6) -- (c34);
\draw[ed] ([yshift=-6pt]c35.west) .. controls +(-60,30) and +(40,-70) .. ([xshift=-6pt]b40.north east);
\draw[ed] ([yshift=-6pt]c36.west) .. controls +(-50,20) and +(40,-45) .. ([xshift=-12pt]b40.north east);
\draw[ed] (c37) -- (b40);
% ---- calendar / system folder
\draw[ed] ([yshift=7pt]b41.west) -- ([xshift=-14pt]a37.south east);
\draw[ed] ([yshift=-8pt]a37.east) -- ([xshift=12pt]b41.north west);
\draw[ed] (c38) -- (b41);
\draw[ed] (c39) -- (b41);
\draw[ed] ([yshift=-10pt]d7.west) .. controls +(-45,170) and +(200,50) .. ([xshift=-8pt]b41.south east);
\draw[ed] ([yshift=-6pt]d8.west) .. controls +(-40,20) and +(40,-30) .. ([xshift=-4pt]c39.north east);
\draw[ed] (b42) -- (a38);
\draw[ed] ([yshift=6pt]b43.west) .. controls +(-70,-20) and +(60,30) .. ([yshift=-8pt]a38.east);
\draw[ed] ([yshift=6pt]b44.west) .. controls +(-70,-20) and +(60,30) .. ([yshift=-8pt]a39.east);
\draw[ed] (c40) -- (b44);
\draw[ed] (c41) -- (b44);
\draw[ed] (c42) -- (b44);
\draw[ed] ([yshift=8pt]c43.west) .. controls +(-70,-10) and +(60,35) .. ([xshift=36pt]b44.south);
\draw[ed] ([yshift=-6pt]d9.west) .. controls +(-60,20) and +(40,-40) .. ([xshift=-4pt]c40.north east);
\draw[ed] (d10) -- (c40);
\draw[ed] ([yshift=-6pt]d11.west) .. controls +(-80,40) and +(50,-60) .. ([yshift=12pt]c43.east);
\draw[ed] ([yshift=-10pt]d12.west) .. controls +(-60,30) and +(40,-40) .. ([yshift=10pt]c43.east);
% ---- ECS category mapping
\draw[ed] (d13) -- (c44);
\draw[ed] ([yshift=-6pt]e1.west) .. controls +(-300,40) and +(60,-150) .. ([xshift=-8pt]c44.north east);
\draw[ed] (e2.west) .. controls +(-280,10) and +(60,-80) .. ([xshift=-4pt]c44.north east);
\draw[ed] (f1) -- (c44);
\draw[ed] (e1) -- (d13);
\draw[ed] (e2) -- (d13);
\draw[ed] (e3) -- (d13);
\draw[ed] (f1) -- (d13);
\draw[ed] ([xshift=-15pt]f1.north) .. controls +(-40,-80) and +(60,40) .. ([xshift=-10pt]e1.south east);
\draw[ed] ([xshift=-50pt]c44.south) -- ([xshift=42pt]b45.north);
% ---- ECS settings
\draw[ed] (d14.west) .. controls +(-300,10) and +(120,150) .. ([yshift=-4pt]a40.east);
\draw[ed] ([xshift=-65pt]b45.north) .. controls +(-60,-120) and +(30,120) .. ([xshift=-10pt]a40.south east);
\draw[ed] ([yshift=-7pt]a40.east) .. controls +(60,40) and +(-60,-160) .. ([xshift=-78pt]b45.north);
\draw[ed] (d24.west) .. controls (820,4270) and (775,4150) .. (775,3900) .. controls (775,3720) and (720,3672) .. (640,3680) .. controls (540,3690) and (495,3640) .. (488,3500) .. controls (484,3400) and (470,3320) .. ([xshift=-18pt]a40.south east);
\draw[ed] ([xshift=-6pt]d18.north) .. controls +(-80,-180) and +(350,0) .. ([yshift=4pt]b45.east);
\draw[ed] (d15.west) .. controls +(-150,-5) and +(150,0) .. ([yshift=-1pt]b45.east);
\draw[ed] (d16.west) .. controls +(-160,-20) and +(140,20) .. ([yshift=-6pt]b45.east);
\draw[ed] (d17.west) .. controls +(-180,-30) and +(130,40) .. ([yshift=-10pt]b45.east);
\draw[ed] (c46.west) .. controls +(-50,-20) and +(50,110) .. ([xshift=-6pt]b45.south east);
\draw[ed] (c47.west) .. controls +(-50,-25) and +(55,130) .. ([xshift=-10pt]b45.south east);
\draw[ed] ([xshift=4pt]d21.north west) .. controls +(-41,-168) and +(84,243) .. ([xshift=-14pt]b45.south east);
\draw[ed] (d22.west) .. controls +(-340,-10) and +(60,250) .. ([xshift=-18pt]b45.south east);
\draw[ed] (d23.west) .. controls +(-330,-20) and +(66,280) .. ([xshift=-22pt]b45.south east);
\draw[ed] ([xshift=-70pt]e4.south) .. controls +(-250,60) and +(80,400) .. ([xshift=-26pt]b45.south east);
\draw[ed] (d24.west) .. controls +(-300,-10) and +(76,360) .. ([xshift=-30pt]b45.south east);
\draw[ed] (d18) -- (c45);
\draw[ed] (d19) -- (c45);
\draw[ed] ([yshift=6pt]d20.west) .. controls +(-50,-10) and +(40,30) .. ([xshift=-14pt]c45.south east);
\draw[ed] ([xshift=12pt]d21.north west) .. controls +(-70,-30) and +(40,70) .. ([xshift=-20pt]c45.south east);
\draw[ed] ([xshift=-12pt]e4.north) .. controls +(-124,-200) and +(43,155) .. ([xshift=-8pt]c45.south east);
\draw[ed] ([xshift=-30pt]d24.north) .. controls +(-122,-107) and +(119,55) .. ([xshift=35pt]c45.south);
\draw[ed] ([xshift=-20pt]d14.south) .. controls +(-110,70) and +(40,-70) .. ([xshift=20pt]c45.north);
\draw[ed] ([xshift=-70pt]d15.south) .. controls +(-60,50) and +(40,-50) .. ([xshift=30pt]c45.north);
\draw[ed] ([xshift=-60pt]d16.south) .. controls +(-50,30) and +(40,-40) .. ([xshift=40pt]c45.north);
\draw[ed] ([yshift=6pt]d17.west) .. controls +(-40,0) and +(40,-20) .. ([xshift=50pt]c45.north);
\draw[ed] ([xshift=-4pt]d18.north) .. controls +(-30,-110) and +(60,60) .. ([xshift=-8pt]d14.south east);
\draw[ed] ([xshift=-4pt]d18.south) .. controls +(-40,130) and +(60,-60) .. ([xshift=-6pt]d22.north east);
\draw[ed] ([xshift=4pt]d18.south) .. controls +(-20,200) and +(70,-70) .. ([xshift=-20pt]d23.north east);
\draw[ed] ([xshift=-30pt]e4.north) -- (d22.south east);
\draw[ed] (e4) -- (d23);
\draw[ed] ([xshift=-30pt]e4.south) .. controls +(-60,40) and +(70,-30) .. ([xshift=-20pt]d24.north east);
% ---- style braid
\draw[ed] (b46.west) .. controls +(-80,-40) and +(70,60) .. ([yshift=-6pt]a41.east);
\draw[ed] (b47.west) .. controls +(-80,-40) and +(70,60) .. ([yshift=-6pt]a42.east);
\draw[ed] (b48.west) .. controls +(-60,-40) and +(60,60) .. ([yshift=-8pt]a43.east);
\draw[ed] (b49.west) .. controls +(-70,-40) and +(60,50) .. ([yshift=-6pt]a44.east);
\draw[ed] (b50.west) .. controls +(-80,-40) and +(70,60) .. ([yshift=-8pt]a45.east);
\draw[ed] (b51.west) .. controls +(-70,-40) and +(60,50) .. ([yshift=-5pt]a46.east);
\draw[ed] (b52.west) .. controls +(-80,-40) and +(70,60) .. ([yshift=-8pt]a47.east);
\draw[ed] (b53.west) .. controls +(-80,-40) and +(70,60) .. ([yshift=-8pt]a48.east);
\draw[ed] (b54.west) .. controls +(-80,-40) and +(70,60) .. ([yshift=-8pt]a51.east);
% ---- purchase
\draw[ed] (b55) -- (a55);
\draw[ed] (b56) -- (a55);
\draw[ed] ([xshift=-90pt]b57.north) .. controls +(-50,-30) and +(40,30) .. ([xshift=-20pt]a55.south east);
\draw[ed] ([xshift=-90pt]b58.north) .. controls +(-50,-30) and +(40,30) .. ([xshift=-20pt]a56.south east);
\draw[ed] (c48) -- (b55);
\draw[ed] (c49) -- (b56);
\draw[ed] (b59) -- (a58);
\end{pgfonlayer}
\end{tikzpicture}
\end{document}
